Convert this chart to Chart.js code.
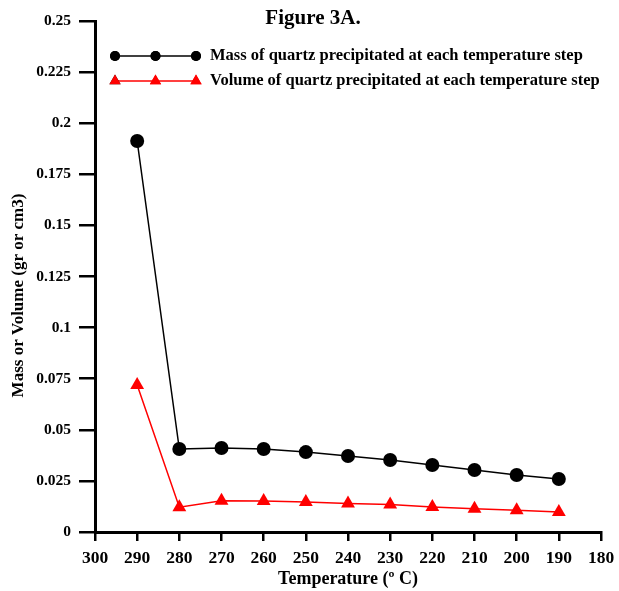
<!DOCTYPE html>
<html>
<head>
<meta charset="utf-8">
<script src="https://cdn.jsdelivr.net/npm/chart.js@4.4.1/dist/chart.umd.min.js"></script>
<style>
  html, body { margin: 0; padding: 0; background: #fff; }
  #wrap { width: 619px; height: 591px; }
</style>
</head>
<body>
<div id="wrap"><canvas id="quartzChart" width="619" height="591"></canvas></div>
<script>
// temperature steps (deg C), plotted on a reversed axis
var temps = [290, 280, 270, 260, 250, 240, 230, 220, 210, 200, 190];
var massVals = [0.1913, 0.0406, 0.0411, 0.0406, 0.0391, 0.0372, 0.0352, 0.0328, 0.0303, 0.0279, 0.0259];
var volumeVals = [0.0719, 0.0121, 0.0153, 0.0152, 0.0147, 0.0140, 0.0134, 0.0122, 0.0114, 0.0106, 0.0098];
var seriesNames = [
    'Mass of quartz precipitated at each temperature step',
    'Volume of quartz precipitated at each temperature step'
];
var yTickLabels = ['0', '0.025', '0.05', '0.075', '0.1', '0.125', '0.15', '0.175', '0.2', '0.225', '0.25'];
var yTitle = 'Mass or Volume (gr or cm3)';

var serif = '"Liberation Serif", "Times New Roman", serif';

function toPoints(xs, ys) {
    return xs.map(function (x, i) { return { x: x, y: ys[i] }; });
}

// title, y title and legend drawn over the plot, like the original figure
var overlay = {
    id: 'overlay',
    afterDraw: function (chart) {
        var ctx = chart.ctx;
        var area = chart.chartArea;
        ctx.save();
        ctx.fillStyle = '#000';
        ctx.font = 'bold 21px ' + serif;
        ctx.textAlign = 'center';
        ctx.textBaseline = 'middle';
        ctx.fillText('Figure 3A.', 313, 19);

        // y axis title, a bit below the middle of the axis
        ctx.save();
        ctx.translate(18.5, (area.top + area.bottom) / 2 + 19);
        ctx.rotate(-Math.PI / 2);
        ctx.font = 'bold 17px ' + serif;
        ctx.fillText(yTitle, 0, 0);
        ctx.restore();

        var x0 = area.left + 20, x1 = area.left + 101, xm = (x0 + x1) / 2;
        var rows = [area.top + 35, area.top + 60];
        chart.data.datasets.forEach(function (ds, i) {
            var y = rows[i];
            ctx.strokeStyle = ds.borderColor;
            ctx.lineWidth = 1.5;
            ctx.beginPath();
            ctx.moveTo(x0, y);
            ctx.lineTo(x1, y);
            ctx.stroke();
            [x0, xm, x1].forEach(function (mx) {
                Chart.helpers.drawPoint(ctx, {
                    pointStyle: ds.pointStyle,
                    radius: i === 0 ? 5 : 6.5,
                    borderWidth: 0
                }, mx, y);
                ctx.fillStyle = ds.pointBackgroundColor;
                ctx.fill();
            });
            ctx.fillStyle = '#000';
            ctx.font = 'bold 16.5px ' + serif;
            ctx.textAlign = 'left';
            ctx.textBaseline = 'middle';
            ctx.fillText(ds.label, x1 + 14, y);
        });
        ctx.restore();
    }
};

var ctx = document.getElementById('quartzChart').getContext('2d');
var myChart = new Chart(ctx, {
    type: 'line',
    data: {
        datasets: [{
            label: seriesNames[0],
            data: toPoints(temps, massVals),
            borderColor: '#000000',
            backgroundColor: '#000000',
            pointBackgroundColor: '#000000',
            pointBorderColor: '#000000',
            borderWidth: 1.5,
            pointStyle: 'circle',
            pointRadius: 7,
            pointBorderWidth: 0,
            tension: 0
        }, {
            label: seriesNames[1],
            data: toPoints(temps, volumeVals),
            borderColor: '#ff0000',
            backgroundColor: '#ff0000',
            pointBackgroundColor: '#ff0000',
            pointBorderColor: '#ff0000',
            borderWidth: 1.5,
            pointStyle: 'triangle',
            pointRadius: 8,
            pointBorderWidth: 0,
            tension: 0
        }]
    },
    options: {
        responsive: false,
        animation: false,
        layout: { padding: { top: 21, right: 18, left: 0, bottom: 0 } },
        plugins: {
            legend: { display: false },
            tooltip: { enabled: false }
        },
        scales: {
            x: {
                type: 'linear',
                reverse: true,
                min: 180,
                max: 300,
                afterFit: function (s) { s.height = 59; s.paddingRight = 0; s.paddingLeft = 0; },
                border: { display: true, color: '#000', width: 3 },
                grid: { drawOnChartArea: false, color: '#000', lineWidth: 2.5, tickLength: 9 },
                ticks: {
                    stepSize: 10,
                    color: '#000',
                    padding: 7,
                    maxRotation: 0,
                    font: { family: serif, size: 17.5, weight: 'bold' }
                },
                title: {
                    display: true,
                    text: 'Temperature (º C)',
                    color: '#000',
                    padding: { top: 0, bottom: 1 },
                    font: { family: serif, size: 18, weight: 'bold' }
                }
            },
            y: {
                min: 0,
                max: 0.25,
                afterFit: function (s) { s.width = 95; },
                border: { display: true, color: '#000', width: 3 },
                grid: { drawOnChartArea: false, color: '#000', lineWidth: 2.5, tickLength: 16 },
                ticks: {
                    stepSize: 0.025,
                    color: '#000',
                    padding: 8,
                    font: { family: serif, size: 15.5, weight: 'bold' },
                    callback: function (v, i) { return yTickLabels[i]; }
                }
            }
        }
    },
    plugins: [overlay]
});
</script>
</body>
</html>
